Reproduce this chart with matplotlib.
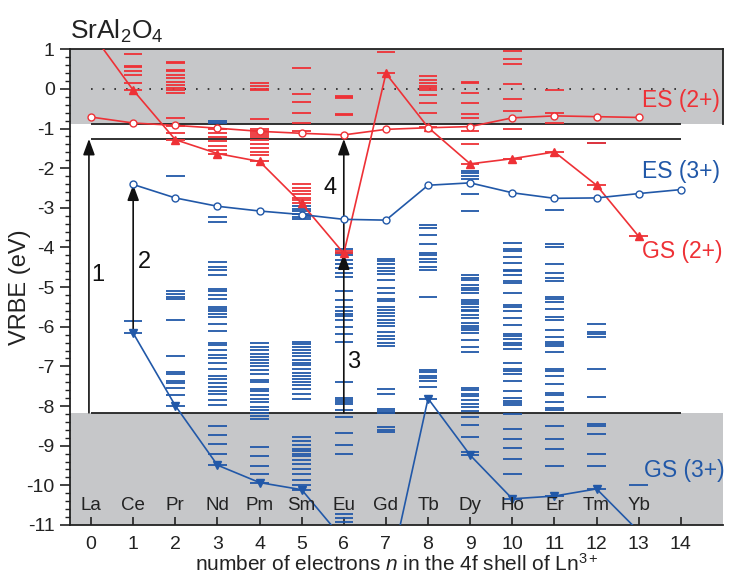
import numpy as np
import matplotlib
matplotlib.use("Agg")
import matplotlib.pyplot as plt
from matplotlib.patches import Rectangle

plt.rcParams['font.family'] = ['Liberation Sans', 'DejaVu Sans']
plt.rcParams['mathtext.fontset'] = 'custom'
plt.rcParams['mathtext.rm'] = 'Liberation Sans'
plt.rcParams['mathtext.it'] = 'Liberation Sans:italic'
plt.rcParams['mathtext.default'] = 'regular'
plt.rcParams['axes.unicode_minus'] = False

RED = '#EE3136'
BLUE = '#2158A8'
GRAY = '#C6C7C9'

n_el = np.arange(15)
elements = ['La', 'Ce', 'Pr', 'Nd', 'Pm', 'Sm', 'Eu', 'Gd', 'Tb', 'Dy', 'Ho', 'Er', 'Tm', 'Yb']

# host band edges (eV)
cb_bottom = -0.89
exciton = -1.26
vb_top = -8.17

nan = np.nan
gs3 = [nan, -6.16, -7.99, -9.49, -9.93, -10.11, -11.38, -12.64, -7.81, -9.24, -10.34, -10.27, -10.09, -11.16, nan]
es3 = [nan, -2.41, -2.75, -2.96, -3.08, -3.17, -3.29, -3.31, -2.43, -2.37, -2.62, -2.76, -2.75, -2.64, -2.54]
gs2 = [1.43, -0.03, -1.28, -1.63, -1.83, -2.89, -4.15, 0.39, -0.97, -1.89, -1.76, -1.59, -2.43, -3.72, nan]
es2 = [-0.71, -0.86, -0.92, -0.99, -1.07, -1.12, -1.16, -1.02, -0.98, -0.95, -0.73, -0.68, -0.70, -0.72, nan]

# excited 4f levels of Ln3+ (absolute VRBE), one list per n
levels3 = [
    [],
    [-5.86],
    [-7.71, -7.54, -7.43, -7.38, -7.18, -7.14, -6.75, -5.84, -5.30, -5.24, -5.18, -5.10, -2.20],
    [-9.20, -8.95, -8.72, -8.50, -7.98, -7.84, -7.70, -7.62, -7.52, -7.42, -7.31, -7.23, -7.06, -6.91,
     -6.78, -6.72, -6.59, -6.47, -6.41, -6.11, -5.92, -5.75, -5.67, -5.60, -5.54, -5.50, -5.29, -5.19,
     -5.10, -5.04, -4.70, -4.57, -4.49, -4.36, -3.35, -3.24, -0.86, -0.80],
    [-9.71, -9.50, -9.27, -9.04, -8.32, -8.26, -8.18, -8.11, -8.02, -7.90, -7.81, -7.73, -7.62, -7.56,
     -7.39, -7.35, -7.18, -7.08, -6.99, -6.91, -6.85, -6.76, -6.69, -6.59, -6.51, -6.41],
    [-10.00, -9.86, -9.71, -9.58, -9.45, -9.35, -9.27, -9.20, -9.14, -9.08, -8.99, -8.87, -8.77, -7.81,
     -7.69, -7.56, -7.48, -7.39, -7.33, -7.25, -7.17, -7.06, -6.97, -6.91, -6.83, -6.75, -6.66, -6.58,
     -6.51, -6.44, -6.38, -3.29, -3.23, -3.15, -3.08, -3.02, -2.95],
    [-10.93, -10.82, -10.72, -9.20, -8.97, -8.68, -8.28, -8.11, -7.96, -7.90, -7.84, -7.79, -7.39, -6.38,
     -6.17, -6.00, -5.82, -5.74, -5.67, -5.60, -5.50, -5.33, -5.09, -4.74, -4.64, -4.53, -4.42, -4.32,
     -4.19, -4.13, -4.05],
    [-8.66, -8.60, -8.53, -8.18, -8.13, -8.07, -7.69, -7.56, -6.49, -6.41, -6.32, -6.24, -6.13, -5.99,
     -5.90, -5.84, -5.74, -5.65, -5.57, -5.50, -5.35, -5.29, -5.15, -5.01, -4.81, -4.66, -4.59, -4.53,
     -4.42, -4.34, -4.28],
    [-7.52, -7.37, -7.28, -7.23, -7.14, -7.08, -5.26, -4.56, -4.49, -4.36, -4.30, -4.19, -4.15, -3.90,
     -3.69, -3.50, -3.44],
    [-9.16, -8.78, -8.49, -8.28, -8.13, -8.02, -7.94, -7.84, -7.75, -7.69, -7.60, -7.54, -6.64, -6.51,
     -6.34, -6.16, -6.09, -6.02, -5.99, -5.90, -5.79, -5.71, -5.60, -5.57, -5.50, -5.43, -5.37, -5.33,
     -5.15, -5.06, -5.01, -4.95, -4.83, -4.76, -4.70, -3.08, -2.64, -2.26, -2.20, -2.13, -2.07],
    [-9.71, -9.33, -9.05, -8.82, -8.57, -8.19, -7.98, -7.92, -7.86, -7.79, -7.62, -7.37, -7.18, -7.12,
     -7.06, -6.91, -6.55, -6.47, -6.41, -6.32, -6.24, -6.17, -5.96, -5.77, -5.60, -5.50, -5.46, -5.15,
     -4.89, -4.84, -4.70, -4.59, -4.56, -4.40, -4.25, -4.08, -4.03, -3.88],
    [-9.50, -9.08, -8.82, -8.51, -8.11, -8.04, -7.90, -7.73, -7.67, -7.44, -7.25, -7.12, -7.06, -6.64,
     -6.49, -6.44, -6.38, -6.26, -6.09, -5.82, -5.75, -5.54, -5.37, -5.31, -5.26, -4.84, -4.78, -4.64,
     -4.42, -4.00, -3.92, -3.06],
    [-9.50, -9.20, -8.71, -8.51, -8.45, -7.77, -7.06, -6.26, -6.19, -6.13, -5.94, -1.36],
    [-9.98],
    [],
]

# excited 4f levels of Ln2+
levels2 = [
    [],
    [0.16, 0.35, 0.46, 0.56, 0.59, 0.87],
    [-1.12, -0.94, -0.74, -0.11, -0.03, 0.03, 0.10, 0.18, 0.27, 0.35, 0.45, 0.48, 0.66, 0.69],
    [-1.53, -1.44, -1.32, -1.21, -1.12, -1.00],
    [-1.67, -1.58, -1.48, -1.39, -1.29, -1.21, -1.15, -1.10, -1.05, -1.00, -0.76, -0.03, 0.00, 0.08, 0.16],
    [-2.80, -2.74, -2.65, -2.57, -2.49, -2.40, -1.05, -0.85, -0.62, -0.32, -0.14, 0.52],
    [-4.09, -0.66, -0.63, -0.24, -0.21, -0.17],
    [0.92],
    [-0.60, -0.36, -0.15, -0.03, 0.015, 0.07, 0.14, 0.225, 0.33],
    [-1.39, -1.05, -0.73, -0.63, -0.36, -0.11, 0.14, 0.18],
    [-1.00, -0.55, -0.26, 0.115, 0.63, 0.75, 0.95],
    [-0.85, -0.60, -0.03],
    [-1.36],
    [],
    [],
]

fig = plt.figure(figsize=(7.29, 5.79), dpi=100)
ax = fig.add_axes([0.096, 0.0933, 0.8957, 0.8216])
ax.set_xlim(-0.5, 15)
ax.set_ylim(-11, 1)

# conduction band and valence band shading
ax.add_patch(Rectangle((-0.5, cb_bottom), 15.5, 1 - cb_bottom, facecolor=GRAY, edgecolor='none', zorder=0))
ax.axhspan(-11, vb_top, color=GRAY, zorder=0, lw=0)
ax.hlines([cb_bottom, exciton, vb_top], 0, 14, color='#222222', lw=1.3, zorder=1)
ax.hlines(0, 0, 13.9, color='#222222', lw=1.2, linestyles=[(0, (1, 6))], zorder=1)

# 4f level lines, ground states included
hw = 0.22
for n in n_el:
    lv = list(levels3[n]) + ([gs3[n]] if not np.isnan(gs3[n]) else [])
    if lv:
        ax.hlines(lv, n - hw, n + hw, color=BLUE, lw=1.3, zorder=2)
for n in n_el:
    lv = list(levels2[n]) + ([gs2[n]] if not np.isnan(gs2[n]) else [])
    if lv:
        ax.hlines(lv, n - hw, n + hw, color=RED, lw=1.3, zorder=2)

# transition arrows
arrows = [(-0.05, vb_top, exciton), (1, gs3[1], es3[1]), (6, vb_top, gs2[6]), (6, gs2[6], exciton)]
for x, y0, y1 in arrows:
    ax.annotate('', xy=(x, y1), xytext=(x, y0),
                arrowprops=dict(arrowstyle='-|>,head_length=0.6,head_width=0.22', color='#111111', lw=1.2,
                                mutation_scale=16, shrinkA=0, shrinkB=0), zorder=3)
for txt, x, y in [('1', 0.17, -4.70), ('2', 1.27, -4.37), ('3', 6.24, -6.89), ('4', 5.68, -2.50)]:
    ax.text(x, y, txt, fontsize=17, ha='center', va='center', color='#111111', zorder=3)

# level schemes
ax.plot(n_el, gs3, color=BLUE, lw=1.2, marker='v', ms=6, mec=BLUE, mfc=BLUE, zorder=4)
ax.plot(n_el, gs2, color=RED, lw=1.2, marker='^', ms=6, mec=RED, mfc=RED, zorder=4)
ax.plot(n_el, es3, color=BLUE, lw=1.2, marker='o', ms=5, mec=BLUE, mfc='white', mew=1.0, zorder=5)
ax.plot(n_el, es2, color=RED, lw=1.2, marker='o', ms=5, mec=RED, mfc='white', mew=1.0, zorder=5)

ax.text(13.08, -0.28, 'ES (2+)', color=RED, fontsize=16.5, va='center', ha='left', zorder=6)
ax.text(13.08, -2.09, 'ES (3+)', color=BLUE, fontsize=16.5, va='center', ha='left', zorder=6)
ax.text(13.08, -4.11, 'GS (2+)', color=RED, fontsize=16.5, va='center', ha='left', zorder=6)
ax.text(13.13, -9.62, 'GS (3+)', color=BLUE, fontsize=16.5, va='center', ha='left', zorder=6)

for n, el in enumerate(elements):
    ax.text(n, -10.52, el, fontsize=13.5, ha='center', va='center', color='#222222', zorder=6)

ax.text(-0.5, 1.45, 'SrAl$_2$O$_4$', fontsize=19, ha='left', va='center', color='#222222')

# axes styling
for s in ['top', 'right', 'left', 'bottom']:
    ax.spines[s].set_linewidth(1.3)
    ax.spines[s].set_color('#222222')
ax.spines['right'].set_bounds(cb_bottom, 1)

ax.set_xticks(range(15))
ax.tick_params(axis='x', direction='in', length=6, width=1.2, labelsize=14, pad=8, colors='#222222')
ax.set_yticks(range(-11, 2))
ax.set_yticks(np.arange(-11, 1.01, 0.2), minor=True)
ax.tick_params(axis='y', which='major', direction='out', length=7, width=1.2, labelsize=14, pad=4,
               colors='#222222')
ax.tick_params(axis='y', which='minor', direction='out', length=3.5, width=1.0, colors='#222222')
ax.tick_params(axis='x', which='minor', bottom=False)

ax.set_xlabel('number of electrons $\\mathit{n}$ in the 4f shell of Ln$^{3+}$', fontsize=15, color='#222222')
ax.xaxis.set_label_coords(0.5, -0.058)
ax.set_ylabel('VRBE (eV)', fontsize=17, color='#222222')
ax.yaxis.set_label_coords(-0.06, 0.5)

fig.savefig('out.png', dpi=100)
